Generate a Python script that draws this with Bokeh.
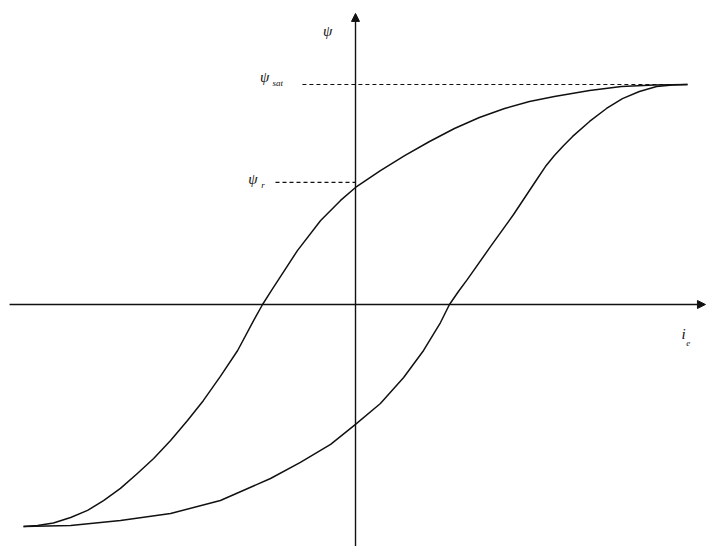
from bokeh.plotting import figure
from bokeh.models import Range1d, Arrow, NormalHead
from bokeh.core.properties import value
from bokeh.embed import file_html
from bokeh.resources import INLINE

# Hysteresis loop (normalised: i_e tip = 1, psi_sat = 1)
desc_i = [1.0, 0.901, 0.801, 0.705, 0.599, 0.524, 0.449, 0.373, 0.298, 0.223, 0.148,
          0.075, 0.0, -0.045, -0.105, -0.175, -0.226, -0.253, -0.280, -0.307, -0.355,
          -0.407, -0.458, -0.506, -0.557, -0.608, -0.657, -0.708, -0.759, -0.807,
          -0.858, -0.910, -0.958, -1.0]
desc_psi = [1.0, 0.998, 0.991, 0.973, 0.945, 0.923, 0.891, 0.850, 0.800, 0.741, 0.677,
            0.609, 0.532, 0.473, 0.382, 0.245, 0.127, 0.064, 0.0, -0.073, -0.209,
            -0.327, -0.436, -0.527, -0.618, -0.700, -0.768, -0.836, -0.891, -0.936,
            -0.968, -0.993, -1.005, -1.009]
asc_i = [-1.0, -0.858, -0.708, -0.557, -0.407, -0.256, -0.166, -0.075, 0.0, 0.075,
         0.145, 0.205, 0.256, 0.283, 0.310, 0.337, 0.407, 0.476, 0.542, 0.572, 0.599,
         0.627, 0.654, 0.705, 0.756, 0.804, 0.855, 0.907, 0.955, 1.0]
asc_psi = [-1.009, -1.005, -0.982, -0.950, -0.891, -0.791, -0.718, -0.636, -0.545,
           -0.450, -0.332, -0.209, -0.082, 0.0, 0.059, 0.114, 0.264, 0.409, 0.559,
           0.627, 0.677, 0.723, 0.764, 0.832, 0.891, 0.936, 0.968, 0.991, 0.998, 1.0]

psi_sat = 1.0
psi_r = 0.555
sat_dash_start = -0.160
r_dash_start = -0.241

x0, x1 = -1.0693, 1.0602
y0, y1 = -1.1, 1.3818

p = figure(width=707, height=546, output_backend="svg", toolbar_location=None,
           x_range=Range1d(x0, x1), y_range=Range1d(y0, y1), min_border=0,
           background_fill_color="white", border_fill_color="white")
p.xaxis.visible = False
p.yaxis.visible = False
p.grid.visible = False
p.outline_line_color = None

# axes with arrows
p.add_layout(Arrow(x_start=-1.042, y_start=0, x_end=1.054, y_end=0, line_width=1.4,
                   line_color="#111111",
                   end=NormalHead(size=8, fill_color="#111111", line_color="#111111")))
p.add_layout(Arrow(x_start=0, y_start=y0, x_end=0, y_end=1.323, line_width=1.4,
                   line_color="#111111",
                   end=NormalHead(size=8, fill_color="#111111", line_color="#111111")))

# dashed reference lines
p.line([sat_dash_start, 1.0], [psi_sat, psi_sat], line_color="#111111", line_width=1.1,
       line_dash="4 3")
p.line([r_dash_start, 0.0], [psi_r, psi_r], line_color="#111111", line_width=1.1,
       line_dash="4 3")

# loop
p.line(desc_i, desc_psi, line_color="#111111", line_width=1.5, line_join="round")
p.line(asc_i, asc_psi, line_color="#111111", line_width=1.5, line_join="round")

serif = value("Liberation Serif")
# main symbols
p.text(x=[-0.084, -0.274, -0.309, 0.988], y=[1.245, 1.032, 0.570, -0.136],
       text=["ψ", "ψ", "ψ", "i"], text_font=serif, text_font_style="italic",
       text_font_size="15px", text_align="center", text_baseline="middle",
       text_color="#111111")
# subscripts
p.text(x=[-0.250, -0.284, 0.996], y=[1.007, 0.543, -0.173],
       text=["sat", "r", "e"], text_font=serif, text_font_style="italic",
       text_font_size="9px", text_align="left", text_baseline="middle",
       text_color="#111111")

open("out.html", "w").write(file_html(p, INLINE))
